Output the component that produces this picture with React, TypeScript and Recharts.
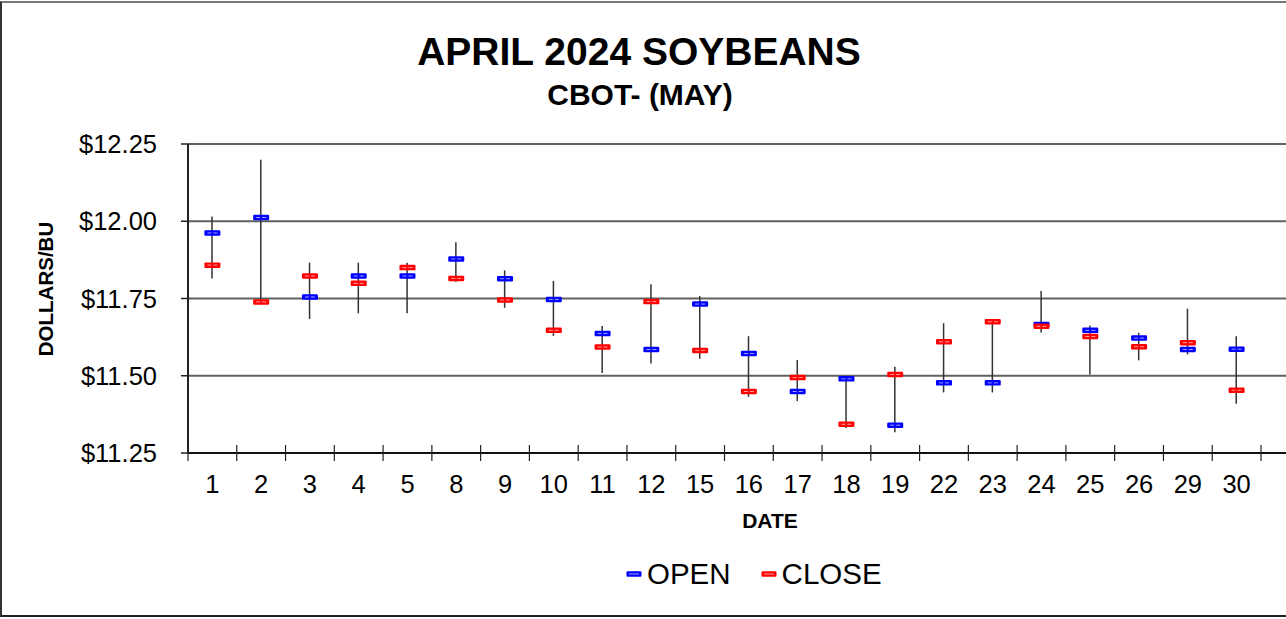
import React from 'react';
import { ComposedChart, Bar, Line, XAxis, YAxis, CartesianGrid } from 'recharts';

const dates = ['1','2','3','4','5','8','9','10','11','12','15','16','17','18','19','22','23','24','25','26','29','30'];
const openVals = [11.962, 12.012, 11.755, 11.823, 11.823, 11.878, 11.814, 11.747, 11.637, 11.585, 11.732, 11.572, 11.449, 11.490, 11.340, 11.477, 11.477, 11.666, 11.647, 11.622, 11.585, 11.586];
const closeVals = [11.858, 11.739, 11.823, 11.799, 11.850, 11.815, 11.745, 11.647, 11.593, 11.740, 11.582, 11.449, 11.494, 11.343, 11.504, 11.610, 11.675, 11.660, 11.627, 11.594, 11.607, 11.453];
const highVals = [12.015, 12.199, 11.866, 11.866, 11.866, 11.932, 11.841, 11.807, 11.661, 11.796, 11.758, 11.628, 11.551, 11.490, 11.529, 11.670, 11.675, 11.774, 11.663, 11.639, 11.717, 11.628];
const lowVals = [11.815, 11.735, 11.684, 11.702, 11.702, 11.804, 11.720, 11.629, 11.509, 11.540, 11.555, 11.432, 11.418, 11.331, 11.317, 11.446, 11.446, 11.640, 11.504, 11.550, 11.569, 11.409];
const yTicks = [11.25, 11.5, 11.75, 12.0, 12.25];

const data = dates.map((d, i) => ({
  date: d,
  open: openVals[i],
  close: closeVals[i],
  range: [lowVals[i], highVals[i]],
}));

const FONT = "'Liberation Sans', Arial, Helvetica, sans-serif";
const W = 1286;
const H = 619;
const PLOT_LEFT = 188;
const PLOT_TOP = 144;
const PLOT_BOTTOM = 453;
const PAD_RIGHT = 25;
const BW = (W - PAD_RIGHT - PLOT_LEFT) / dates.length;

const HLShape = (props: any) => {
  const { x, y, width, height } = props;
  if (x == null || y == null) return null;
  const cx = x + width / 2;
  return <line x1={cx} x2={cx} y1={y} y2={y + height} stroke="#333" strokeWidth={1.5} />;
};

const makeDot = (fill: string, inner: string) => (props: any) => {
  const { cx, cy, index } = props;
  if (cx == null || cy == null) return <g key={index} />;
  return (
    <g key={index}>
      <rect x={cx - 8} y={cy - 2.75} width={16} height={5.5} rx={1.2} fill={fill} />
      <line x1={cx - 5} x2={cx + 5} y1={cy} y2={cy} stroke={inner} strokeWidth={1} strokeDasharray="4 2" />
    </g>
  );
};

const OpenDot = makeDot('#0000ff', '#a0a0ff');
const CloseDot = makeDot('#ff0000', '#ffa0a0');

const XTick = (props: any) => {
  const { x, payload } = props;
  const isLast = payload.value === dates[dates.length - 1];
  return (
    <g>
      <line x1={x - BW / 2} x2={x - BW / 2} y1={PLOT_BOTTOM - 8} y2={PLOT_BOTTOM + 8} stroke="#222" strokeWidth={1.2} />
      {isLast && (
        <line x1={x + BW / 2} x2={x + BW / 2} y1={PLOT_BOTTOM - 8} y2={PLOT_BOTTOM + 8} stroke="#222" strokeWidth={1.2} />
      )}
      <text x={x} y={PLOT_BOTTOM + 40} textAnchor="middle" fontSize={25.5} fontFamily={FONT} fill="#000">
        {payload.value}
      </text>
    </g>
  );
};

const LegendItem = ({ color, inner, label }: { color: string; inner: string; label: string }) => (
  <div style={{ display: 'flex', alignItems: 'center' }}>
    <svg width={16} height={8} style={{ display: 'block' }}>
      <rect x={0.5} y={1.25} width={15} height={5.5} rx={1.2} fill={color} />
      <line x1={3} x2={13} y1={4} y2={4} stroke={inner} strokeWidth={1} />
    </svg>
    <span style={{ marginLeft: 5, fontSize: 29.5, fontFamily: FONT, color: '#000', lineHeight: '34px' }}>{label}</span>
  </div>
);

export default function App() {
  return (
    <div style={{ position: 'absolute', left: 0, top: 0, width: W, height: H, overflow: 'hidden', background: '#fff' }}>
      <div
        style={{
          position: 'absolute',
          left: 0,
          top: 1,
          width: W + 40,
          height: H - 3,
          boxSizing: 'border-box',
          borderTop: '2px solid #777',
          borderLeft: '2px solid #333',
          borderBottom: '2px solid #222',
        }}
      />
      <div
        style={{
          position: 'absolute',
          left: 0,
          width: 1278,
          top: 29,
          textAlign: 'center',
          fontFamily: FONT,
          fontWeight: 'bold',
          fontSize: 39,
          lineHeight: '46px',
        }}
      >
        APRIL 2024 SOYBEANS
      </div>
      <div
        style={{
          position: 'absolute',
          left: 0,
          width: 1280,
          top: 77,
          textAlign: 'center',
          fontFamily: FONT,
          fontWeight: 'bold',
          fontSize: 30,
          lineHeight: '36px',
        }}
      >
        CBOT- (MAY)
      </div>
      <div style={{ position: 'absolute', left: 0, top: 0 }}>
        <ComposedChart
          width={W}
          height={H}
          data={data}
          margin={{ top: PLOT_TOP, right: 0, bottom: H - PLOT_BOTTOM - 60, left: PLOT_LEFT - 100 }}
        >
          <CartesianGrid vertical={false} stroke="#606060" strokeWidth={1.8} />
          <XAxis
            dataKey="date"
            type="category"
            interval={0}
            height={60}
            padding={{ left: 0, right: PAD_RIGHT }}
            axisLine={{ stroke: '#111', strokeWidth: 2 }}
            tickLine={false}
            tickSize={0}
            tickMargin={0}
            tick={XTick}
          />
          <YAxis
            width={100}
            domain={[11.25, 12.25]}
            ticks={yTicks}
            allowDataOverflow
            interval={0}
            tickFormatter={(v: number) => `$${v.toFixed(2)}`}
            tick={{ fontSize: 25.5, fill: '#000', fontFamily: FONT }}
            tickSize={7}
            tickMargin={24}
            axisLine={{ stroke: '#222', strokeWidth: 2 }}
            tickLine={{ stroke: '#222', strokeWidth: 1.5 }}
          />
          <Bar dataKey="range" barSize={10} shape={HLShape} isAnimationActive={false} />
          <Line dataKey="open" stroke="none" dot={OpenDot} activeDot={false} isAnimationActive={false} />
          <Line dataKey="close" stroke="none" dot={CloseDot} activeDot={false} isAnimationActive={false} />
        </ComposedChart>
      </div>
      <div
        style={{
          position: 'absolute',
          left: 31,
          top: 274,
          width: 30,
          height: 30,
          display: 'flex',
          alignItems: 'center',
          justifyContent: 'center',
        }}
      >
        <div
          style={{
            transform: 'rotate(-90deg)',
            whiteSpace: 'nowrap',
            fontFamily: FONT,
            fontWeight: 'bold',
            fontSize: 20.5,
          }}
        >
          DOLLARS/BU
        </div>
      </div>
      <div
        style={{
          position: 'absolute',
          left: 670,
          width: 200,
          top: 508,
          textAlign: 'center',
          fontFamily: FONT,
          fontWeight: 'bold',
          fontSize: 21,
          lineHeight: '26px',
        }}
      >
        DATE
      </div>
      <div style={{ position: 'absolute', left: 626, top: 557, display: 'flex', alignItems: 'center' }}>
        <LegendItem color="#0000ff" inner="#a0a0ff" label="OPEN" />
        <div style={{ width: 30 }} />
        <LegendItem color="#ff0000" inner="#ffa0a0" label="CLOSE" />
      </div>
    </div>
  );
}
